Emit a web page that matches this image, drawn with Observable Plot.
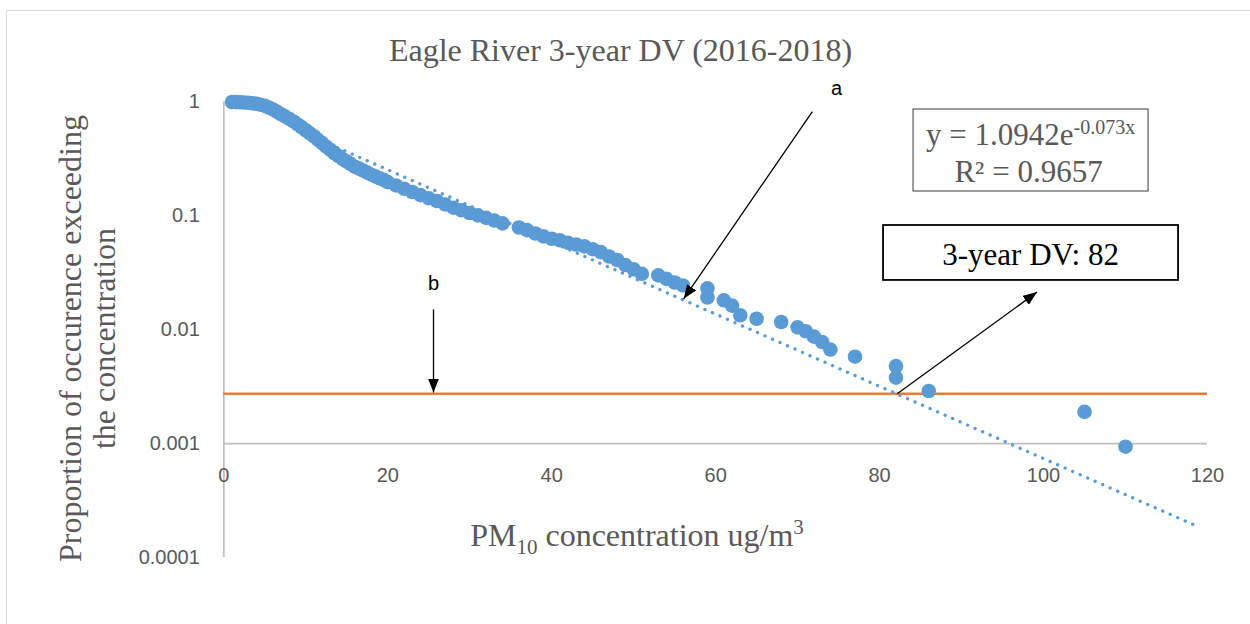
<!DOCTYPE html>
<html><head><meta charset="utf-8">
<script src="https://cdn.jsdelivr.net/npm/d3@7"></script>
<script src="https://cdn.jsdelivr.net/npm/@observablehq/plot@0.6"></script>
<style>
html,body{margin:0;padding:0;background:#fff;overflow:hidden;}
#wrap{position:relative;width:1250px;height:624px;overflow:hidden;}
#border{position:absolute;left:6px;top:10px;width:1300px;height:700px;border:1.5px solid #d9d9d9;}
#chart{position:absolute;left:0;top:0;}
</style></head><body>
<div id="wrap"><div id="border"></div><div id="chart"></div></div>
<script>
// ---- data ----
const concentration = [1,1.5,2,2.5,3,3.5,4,4.5,5,5.5,6,6.5,7,7.5,8,8.5,9,9.5,10,10.5,11,11.5,12,12.5,13,13.5,14,14.5,
  15,15.5,16,16.5,17,17.5,18,18.5,19,19.5,20,21,22,23,24,25,26,27,28,29,30,31,32,33,34,
  36,37,38,39,40,41,42,43,44,45,46,47,48,49,50,51,53,54,55,56,59,59,61,62,63,65,68,70,71,72,73,74,77,82,82,86,105,110];
const proportion = [1.0,0.998,0.995,0.99,0.985,0.975,0.965,0.945,0.925,0.895,0.86,0.82,0.78,0.745,0.71,0.675,0.635,0.6,
  0.565,0.53,0.5,0.465,0.435,0.405,0.38,0.355,0.335,0.315,0.3,0.285,0.27,0.26,0.25,0.24,0.23,0.222,0.214,0.207,0.198,
  0.185,0.173,0.162,0.152,0.143,0.135,0.126,0.118,0.112,0.106,0.101,0.096,0.091,0.086,
  0.079,0.075,0.07,0.066,0.063,0.061,0.058,0.056,0.054,0.051,0.048,0.044,0.041,0.037,0.034,0.031,
  0.030,0.028,0.026,0.0245,0.0231,0.0192,0.0181,0.0163,0.0134,0.0125,0.0117,0.0105,0.0097,0.0087,0.0078,0.0067,0.0058,
  0.0048,0.0038,0.0029,0.0019,0.00094];
const xTicks = [0,20,40,60,80,100,120];
const yTicks = [1,0.1,0.01,0.001,0.0001];
const yTickLabels = ["1","0.1","0.01","0.001","0.0001"];
const trendA = 1.0942, trendB = -0.073;      // fitted exponential shown on the chart
const trendExtent = [12, 118.8];
const threshold = 1/365;                      // line "b"
const dvValue = 82;

const titleText = "Eagle River 3-year DV (2016-2018)";
const yLabel1 = "Proportion of occurence exceeding";
const yLabel2 = "the concentration";
const eqMain = "y = 1.0942e", eqSup = "-0.073x";
const r2Text = "R² = 0.9657";

// annotation anchors (in data space)
const arrows = [
  {x1: 71.8, y1: 0.825, x2: 56.1, y2: 0.0187},
  {x1: 25.58, y1: 0.0151, x2: 25.58, y2: 0.00281},
  {x1: 82.15, y1: threshold, x2: 99.2, y2: 0.0214}
];
const letters = [{x: 74.75, y: 1.31, t: "a"}, {x: 25.58, y: 0.0255, t: "b"}];
const boxes = [
  {x1: 84.14, x2: 112.81, y1: 0.859, y2: 0.1637, stroke: "#595959", w: 1.2},
  {x1: 80.48, x2: 116.47, y1: 0.0823, y2: 0.0271, stroke: "#000", w: 1.8}
];

const points = concentration.map((c, i) => ({c, p: proportion[i]}));
const blue = "#5b9bd5", gray = "#595959", axisGray = "#bfbfbf";
const serif = "Liberation Serif, Times New Roman, serif";
const sans = "Liberation Sans, Arial, sans-serif";

const chart = Plot.plot({
  width: 1250, height: 624,
  marginLeft: 223.3, marginRight: 43, marginTop: 101.5, marginBottom: 67,
  x: {domain: [0, 120], axis: null},
  y: {type: "log", domain: [1e-4, 1], axis: null},
  marks: [
    // axes
    Plot.ruleX([0], {y1: 1e-4, y2: 1, stroke: axisGray, strokeWidth: 1.8}),
    Plot.ruleY([0.001], {x1: 0, x2: 120, stroke: axisGray, strokeWidth: 1.8}),
    Plot.text(yTicks, {x: () => 0, y: d => d, text: (d, i) => yTickLabels[i], dx: -24, textAnchor: "end",
      lineAnchor: "middle", fontSize: 20, fontFamily: sans, fill: gray}),
    Plot.text(xTicks, {x: d => d, y: () => 0.001, text: d => String(d), dy: 31.7, lineAnchor: "middle",
      fontSize: 20, fontFamily: sans, fill: gray}),
    // threshold line
    Plot.ruleY([threshold], {x1: 0, x2: 120, stroke: "#ed7d31", strokeWidth: 2.6}),
    // data
    Plot.dot(points, {x: "c", y: "p", r: 7.3, fill: blue, stroke: "none"}),
    // trendline
    Plot.line(trendExtent, {x: d => d, y: d => trendA * Math.exp(trendB * d), stroke: blue, strokeWidth: 3.3,
      strokeDasharray: "0.1 8.1", strokeLinecap: "round"}),
    // boxes
    Plot.rect(boxes, {x1: "x1", x2: "x2", y1: "y1", y2: "y2", fill: "white", stroke: "stroke", strokeWidth: "w"}),
    Plot.text([eqMain], {x: () => 98.42, y: () => 0.508, fontSize: 31, fontFamily: serif,
      fill: gray, lineAnchor: "middle", textAnchor: "middle"}),
    Plot.text([r2Text], {x: () => 98.17, y: () => 0.2415, fontSize: 31, fontFamily: serif,
      fill: gray, lineAnchor: "middle", textAnchor: "middle"}),
    Plot.text([dvValue], {x: () => 98.42, y: () => 0.0449, text: d => `3-year DV: ${d}`, fontSize: 31, fontFamily: serif,
      fill: "#000", lineAnchor: "middle", textAnchor: "middle"}),
    // arrows
    Plot.link(arrows, {x1: "x1", y1: "y1", x2: "x2", y2: "y2", stroke: "#000", strokeWidth: 1.3}),
    Plot.text(letters, {x: "x", y: "y", text: "t", fontSize: 20, fontFamily: sans, fill: "#000", lineAnchor: "middle"}),
    // titles
    Plot.text([titleText], {frameAnchor: "top-left", dx: 396.7, dy: -51.5, fontSize: 32, fontFamily: serif,
      fill: gray, lineAnchor: "middle", textAnchor: "middle"}),
    Plot.text([yLabel1], {frameAnchor: "top-left", dx: -153.3, dy: 236.5, rotate: -90, fontSize: 32, fontFamily: serif,
      fill: gray, lineAnchor: "middle", textAnchor: "middle"}),
    Plot.text([yLabel2], {frameAnchor: "top-left", dx: -119.3, dy: 236.5, rotate: -90, fontSize: 32, fontFamily: serif,
      fill: gray, lineAnchor: "middle", textAnchor: "middle"}),
    Plot.text(["PM"], {frameAnchor: "top-left", dx: 413.2, dy: 433.5, fontSize: 32, fontFamily: serif,
      fill: gray, lineAnchor: "middle", textAnchor: "middle"})
  ]
});

document.getElementById("chart").appendChild(chart);
const svg = d3.select(chart);
svg.style("overflow", "visible");
// filled arrowheads
svg.append("defs").append("marker")
  .attr("id", "tri").attr("viewBox", "0 0 14 11").attr("refX", 14).attr("refY", 5.5)
  .attr("markerWidth", 14).attr("markerHeight", 11).attr("markerUnits", "userSpaceOnUse").attr("orient", "auto")
  .append("path").attr("d", "M0,0L14,5.5L0,11Z").attr("fill", "#000");
svg.selectAll('g[aria-label="link"] path').attr("marker-end", "url(#tri)");
// rich text: superscript / subscript
const byText = t => svg.selectAll("text").filter(function() { return this.textContent === t; });
const eq = byText(eqMain);
eq.text(null);
eq.append("tspan").text(eqMain);
eq.append("tspan").attr("font-size", 20).attr("dy", "-0.55em").text(eqSup);
const xl = byText("PM");
xl.text(null);
xl.append("tspan").text("PM");
xl.append("tspan").attr("font-size", 21).attr("dy", 8).text("10");
xl.append("tspan").attr("dy", -8).text(" concentration ug/m");
xl.append("tspan").attr("font-size", 21).attr("dy", -12).text("3");
</script>
</body></html>
